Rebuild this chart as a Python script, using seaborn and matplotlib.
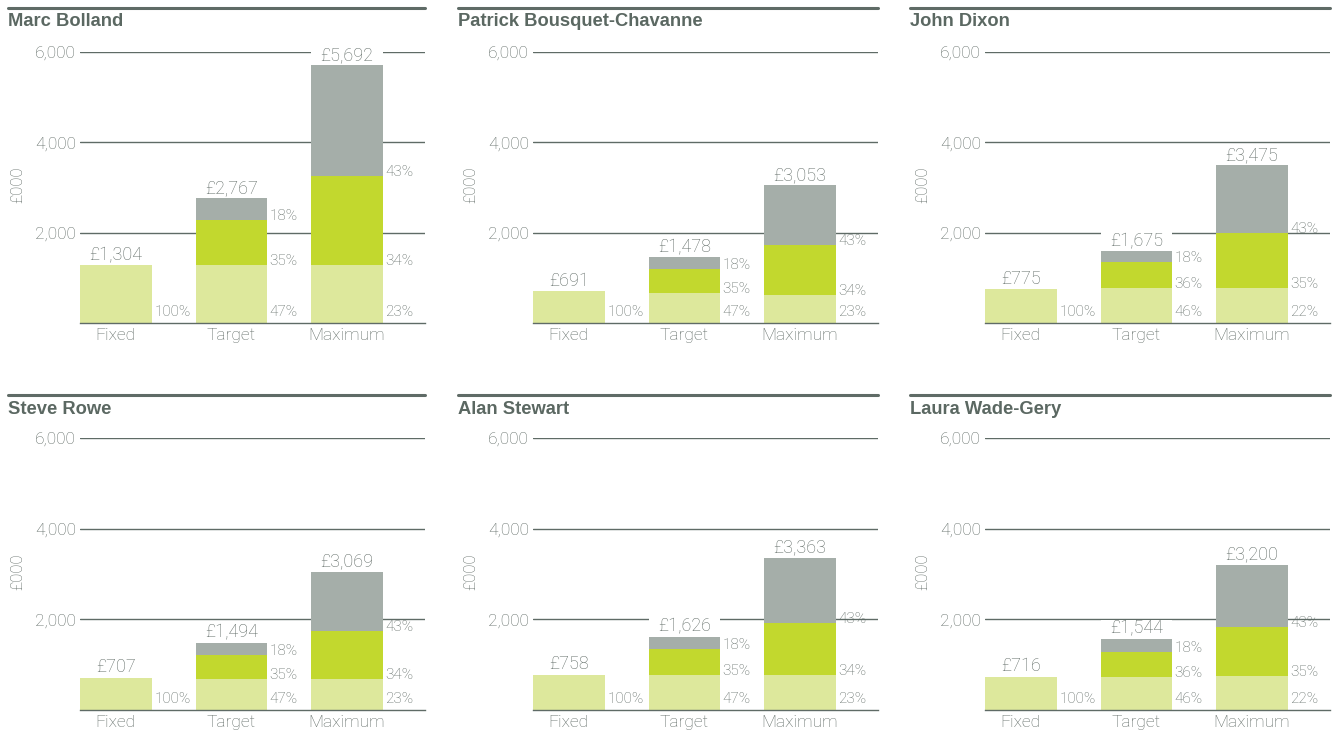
import matplotlib
matplotlib.use("Agg")
import matplotlib.pyplot as plt
import seaborn as sns
import pandas as pd
from matplotlib.lines import Line2D

# ---------------- data ----------------
names = ["Marc Bolland", "Patrick Bousquet-Chavanne", "John Dixon",
         "Steve Rowe", "Alan Stewart", "Laura Wade-Gery"]
scenarios = ["Fixed", "Target", "Maximum"]
# segment heights (£000) per scenario: Fixed, Target, Maximum
fixed_part = [[1277, 1277, 1277], [701, 657, 613], [745, 768, 768],
              [707, 685, 685], [773, 773, 773], [729, 729, 751]]
bonus_part = [[0, 996, 1970], [0, 531, 1107], [0, 590, 1217],
              [0, 530, 1060], [0, 575, 1149], [0, 552, 1082]]
ltip_part = [[0, 487, 2458], [0, 266, 1328], [0, 229, 1506],
             [0, 265, 1304], [0, 265, 1436], [0, 287, 1370]]
total_labels = [[1304, 2767, 5692], [691, 1478, 3053], [775, 1675, 3475],
                [707, 1494, 3069], [758, 1626, 3363], [716, 1544, 3200]]
fixed_pcts = [[100]] * 6
target_pcts = [[47, 35, 18], [47, 35, 18], [46, 36, 18],
               [47, 35, 18], [47, 35, 18], [46, 36, 18]]
maximum_pcts = [[23, 34, 43], [23, 34, 43], [22, 35, 43],
                [23, 34, 43], [23, 34, 43], [22, 35, 43]]
y_ticks = [2000, 4000, 6000]
y_tick_labels = ["2,000", "4,000", "6,000"]

# ---------------- style ----------------
LIGHT = "#dde89c"
GREEN = "#c2d82e"
GREY = "#a5aea9"
LINE = "#5f6b66"
TEXT = "#5e6964"
TITLE = "#5b6862"
W = 0.62
HALO = 420
TXT_FAMILY = ["Roboto", "Liberation Sans", "DejaVu Sans"]
TXT_WEIGHT = "light"

sns.set_theme(style="white")
plt.rcParams["font.family"] = ["Liberation Sans", "DejaVu Sans"]

W_PX, H_PX = 1337, 731
fig = plt.figure(figsize=(W_PX / 100, H_PX / 100), dpi=100)

col_left = [80, 533, 985]
rule_x = [(8, 425), (458, 878), (910, 1330)]
row_top = [52, 438]
row_h = [271, 272]
rule_y = [8, 395]
title_y = [22, 409]
ax_w = 345

for k, name in enumerate(names):
    r, c = divmod(k, 3)
    left = col_left[c] / W_PX
    bottom = 1 - (row_top[r] + row_h[r]) / H_PX
    ax = fig.add_axes([left, bottom, ax_w / W_PX, row_h[r] / H_PX])

    df = pd.DataFrame({"scenario": scenarios,
                       "fixed": fixed_part[k],
                       "bonus": bonus_part[k],
                       "ltip": ltip_part[k]})
    df["top_bonus"] = df["fixed"] + df["bonus"]
    df["top"] = df["top_bonus"] + df["ltip"]
    df["halo"] = df["top"] + HALO

    for col, color in [("halo", "white"), ("top", GREY),
                       ("top_bonus", GREEN), ("fixed", LIGHT)]:
        sns.barplot(data=df, x="scenario", y=col, order=scenarios,
                    color=color, saturation=1, width=W, errorbar=None,
                    linewidth=0, edgecolor="none", ax=ax, zorder=2)

    ax.set_xlim(-W / 2, -W / 2 + ax_w / 115.5)
    ax.set_ylim(0, 6000)
    ax.set_yticks(y_ticks)
    ax.set_yticklabels(y_tick_labels)
    ax.set_axisbelow(True)
    ax.yaxis.grid(True, color=LINE, linewidth=1.0)
    ax.xaxis.grid(False)
    for s in ["top", "left", "right"]:
        ax.spines[s].set_visible(False)
    ax.spines["bottom"].set_color(LINE)
    ax.spines["bottom"].set_linewidth(1.0)
    ax.tick_params(axis="y", length=0, pad=3, labelsize=12.5, labelcolor=TEXT)
    ax.tick_params(axis="x", length=0, pad=3.5, labelsize=12.5, labelcolor=TEXT)
    for lab in ax.get_xticklabels() + ax.get_yticklabels():
        lab.set_family(TXT_FAMILY)
        lab.set_fontweight(TXT_WEIGHT)
    ax.set_xlabel("")
    ax.set_ylabel("£000", fontsize=12, color=TEXT, family=TXT_FAMILY,
                  fontweight=TXT_WEIGHT)
    ax.yaxis.set_label_coords(-0.16, 0.51)

    # total labels
    for i in range(3):
        ax.annotate(f"£{total_labels[k][i]:,}", xy=(i, df["top"][i]),
                    xytext=(0, 4), textcoords="offset points",
                    ha="center", va="baseline", fontsize=13, color=TEXT,
                    family=TXT_FAMILY, fontweight=TXT_WEIGHT, zorder=5)

    # percentage labels
    pct_sets = [fixed_pcts[k], target_pcts[k], maximum_pcts[k]]
    for i in range(3):
        bases = [0, df["fixed"][i], df["top_bonus"][i]]
        for j, p in enumerate(pct_sets[i]):
            dy = 5 if j == 0 else 0
            ax.annotate(f"{p}%", xy=(i + W / 2, bases[j]),
                        xytext=(1.8, dy), textcoords="offset points",
                        ha="left", va="baseline", fontsize=11, color=TEXT,
                        family=TXT_FAMILY, fontweight=TXT_WEIGHT,
                        zorder=5, annotation_clip=False)

    # header rule and title
    x0, x1 = rule_x[c]
    fig.add_artist(Line2D([x0 / W_PX, x1 / W_PX],
                          [1 - rule_y[r] / H_PX, 1 - rule_y[r] / H_PX],
                          color=LINE, linewidth=2.2))
    fig.text(x0 / W_PX, 1 - title_y[r] / H_PX, name, ha="left", va="center",
             fontsize=13.2, fontweight="bold", color=TITLE)

fig.savefig("out.png", dpi=100, facecolor="white")
